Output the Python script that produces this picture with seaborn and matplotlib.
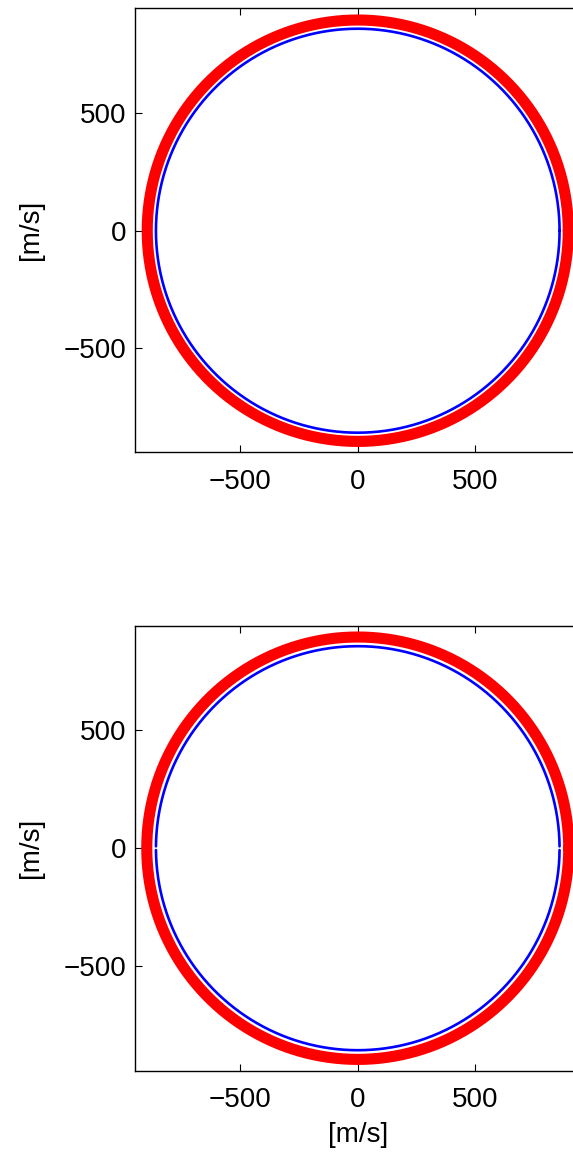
import numpy as np
import pandas as pd
import matplotlib
matplotlib.use("Agg")
import matplotlib.pyplot as plt
import seaborn as sns

# radii of the two circles [m/s]
red_radius = [895, 897]
blue_radius = [858, 858]
tick_values = [-500, 0, 500]
tick_labels = ["\u2212500", "0", "500"]
x_limits = [(-947, 947), (-947, 947)]
y_limits = [(-940, 946), (-945, 945)]
# bottom panel has blue circle drawn as two halves (small gaps at y=0)
blue_split = [False, True]

sns.set_style("ticks")
plt.rcParams["font.family"] = ["Liberation Sans", "DejaVu Sans"]
plt.rcParams["xtick.direction"] = "in"
plt.rcParams["ytick.direction"] = "in"
plt.rcParams["text.color"] = "black"
plt.rcParams["axes.labelcolor"] = "black"
plt.rcParams["xtick.color"] = "black"
plt.rcParams["ytick.color"] = "black"


def circle_frame(r, t):
    return pd.DataFrame({"x": r * np.cos(t), "y": r * np.sin(t)})


fig = plt.figure(figsize=(5.73, 11.53), dpi=100)
W, H = 573.0, 1153.0
# axes boxes in pixels: left, top, right, bottom (right side is cut off by the figure)
boxes = [(135, 8, 580.5, 452), (135, 625.7, 580.5, 1070.7)]

for i, (l, t, r, b) in enumerate(boxes):
    ax = fig.add_axes([l / W, 1 - b / H, (r - l) / W, (b - t) / H])
    theta = np.linspace(0, 2 * np.pi, 721)
    sns.lineplot(data=circle_frame(red_radius[i], theta), x="x", y="y", sort=False,
                 estimator=None, color="#ff0000", linewidth=8, ax=ax)
    if blue_split[i]:
        gap = 0.009
        for t0 in [0, np.pi]:
            th = np.linspace(t0 + gap, t0 + np.pi - gap, 361)
            sns.lineplot(data=circle_frame(blue_radius[i], th), x="x", y="y", sort=False,
                         estimator=None, color="#0000ff", linewidth=1.9, ax=ax)
    else:
        sns.lineplot(data=circle_frame(blue_radius[i], theta), x="x", y="y", sort=False,
                     estimator=None, color="#0000ff", linewidth=1.9, ax=ax)

    ax.set_xlim(*x_limits[i])
    ax.set_ylim(*y_limits[i])
    ax.set_xticks(tick_values)
    ax.set_xticklabels(tick_labels)
    ax.set_yticks(tick_values)
    ax.set_yticklabels(tick_labels)
    ax.tick_params(axis="both", labelsize=20, length=5, width=0.8, color="black",
                   labelcolor="black", top=True, right=True)
    ax.tick_params(axis="x", pad=12)
    ax.tick_params(axis="y", pad=6)
    for s in ax.spines.values():
        s.set_linewidth(1.0)
        s.set_color("black")
    ax.set_ylabel("[m/s]", fontsize=20, color="black")
    ax.yaxis.set_label_coords(-0.205, 0.5)
    if i == 1:
        ax.set_xlabel("[m/s]", fontsize=20, va="top", color="black")
        ax.xaxis.set_label_coords(0.5, -0.115)
    else:
        ax.set_xlabel("")

fig.savefig("out.png", dpi=100)
